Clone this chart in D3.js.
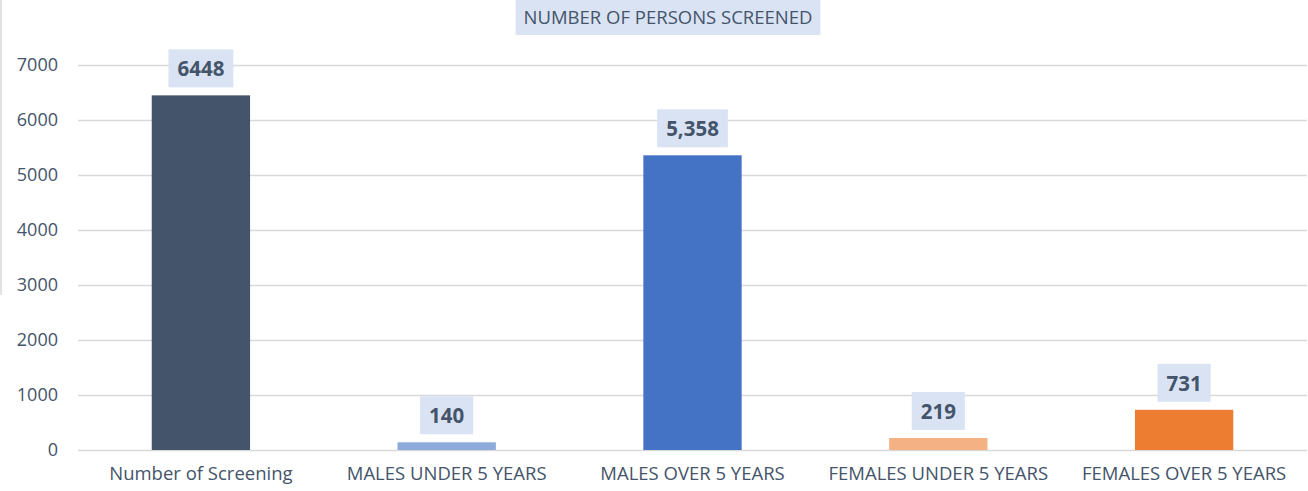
<!DOCTYPE html>
<html>
<head>
<meta charset="utf-8">
<script src="https://cdn.jsdelivr.net/npm/d3@7"></script>
<style>
  body { margin: 0; background: #fff; }
  svg { display: block; font-family: "Open Sans", sans-serif; }
</style>
</head>
<body>
<div id="chart"></div>
<script>
var categories = ["Number of Screening", "MALES UNDER 5 YEARS", "MALES OVER 5 YEARS", "FEMALES UNDER 5 YEARS", "FEMALES OVER 5 YEARS"]
var values = [6448, 140, 5358, 219, 731]
var valueLabels = ["6448", "140", "5,358", "219", "731"]
var colors = ["#44546A", "#8EAADB", "#4472C4", "#F4B183", "#ED7D31"]
var yTicks = [0, 1000, 2000, 3000, 4000, 5000, 6000, 7000]
var title = "NUMBER OF PERSONS SCREENED"

var width = 1308, height = 491
var margin = {top: 65, right: 1, bottom: 41, left: 78}
var textColor = "#44546A"
var font = "'Open Sans', sans-serif"

var svg = d3.select("#chart")
  .append("svg")
  .attr("width", width)
  .attr("height", height)

// faint border at the left edge
svg.append("line")
  .attr("x1", 1).attr("x2", 1)
  .attr("y1", 0).attr("y2", 295)
  .attr("stroke", "#D9D9D9")
  .attr("stroke-width", 1.5)

var x = d3.scaleBand()
  .domain(categories)
  .range([margin.left, width - margin.right])
  .paddingInner(0.6)
  .paddingOuter(0.3)

var y = d3.scaleLinear()
  .domain([0, 7000])
  .range([height - margin.bottom, margin.top])

// gridlines + tick labels
var yAxis = svg.append("g")
  .attr("transform", "translate(" + margin.left + ",0)")
  .call(d3.axisLeft(y)
    .tickValues(yTicks)
    .tickSize(-(width - margin.right - margin.left))
    .tickPadding(20)
    .tickFormat(d3.format("d")))
  .attr("font-family", font)

yAxis.select(".domain").remove()
yAxis.selectAll(".tick line")
  .attr("stroke", "#D9D9D9")
  .attr("stroke-width", 1.5)
yAxis.selectAll(".tick text")
  .attr("fill", textColor)
  .style("font-size", "18px")

// category labels
var xAxis = svg.append("g")
  .attr("transform", "translate(0," + (height - margin.bottom) + ")")
  .call(d3.axisBottom(x).tickSize(0).tickPadding(17))
  .attr("font-family", font)
xAxis.select(".domain").remove()
xAxis.selectAll(".tick text")
  .attr("fill", textColor)
  .style("font-size", "18.5px")

// bars
svg.selectAll(".bar")
  .data(values)
  .enter()
  .append("rect")
  .attr("class", "bar")
  .attr("x", (d, i) => x(categories[i]))
  .attr("width", x.bandwidth())
  .attr("y", d => y(d))
  .attr("height", d => y(0) - y(d))
  .attr("fill", (d, i) => colors[i])

// value labels with boxes
var labels = svg.selectAll(".vlabel")
  .data(values)
  .enter()
  .append("g")
  .attr("class", "vlabel")
  .attr("transform", (d, i) => "translate(" + (x(categories[i]) + x.bandwidth() / 2) + "," + (y(d) - 8) + ")")

labels.append("rect")
labels.append("text")
  .attr("text-anchor", "middle")
  .attr("y", -11)
  .attr("fill", textColor)
  .style("font-size", "20.5px")
  .style("font-weight", "bold")
  .text((d, i) => valueLabels[i])

labels.each(function() {
  var g = d3.select(this)
  var w = g.select("text").node().getBBox().width
  g.select("rect")
    .attr("x", -w / 2 - 9)
    .attr("width", w + 18)
    .attr("y", -38)
    .attr("height", 38)
    .attr("fill", "#DAE3F3")
})

// title
var t = svg.append("g").attr("transform", "translate(668,0)")
t.append("rect")
t.append("text")
  .attr("text-anchor", "middle")
  .attr("y", 24)
  .attr("fill", textColor)
  .style("font-size", "18.5px")
  .text(title)
var tw = t.select("text").node().getBBox().width
t.select("rect")
  .attr("x", -tw / 2 - 8)
  .attr("width", tw + 16)
  .attr("y", 0)
  .attr("height", 35)
  .attr("fill", "#DAE3F3")
</script>
</body>
</html>
